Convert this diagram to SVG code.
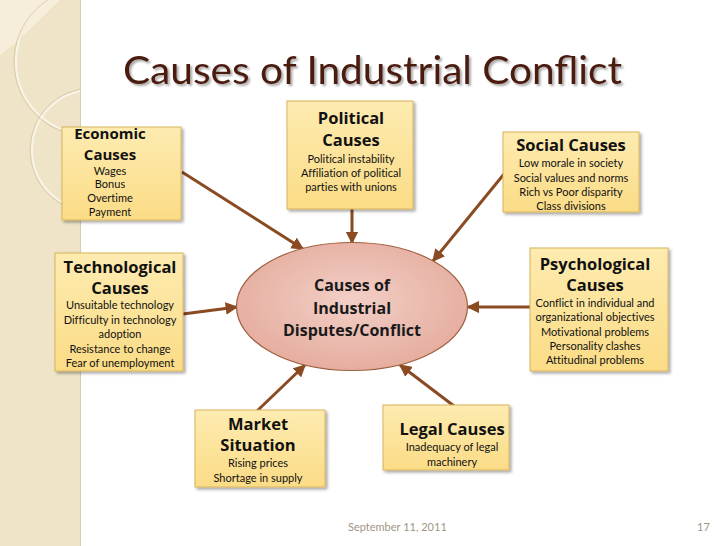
<svg xmlns="http://www.w3.org/2000/svg" width="728" height="546" viewBox="0 0 728 546">
<defs>
<style>
.box{fill:url(#boxg);stroke:#d8b45c;stroke-width:1;filter:url(#sh)}
.h{font-family:"Open Sans",Lato,"Liberation Sans",sans-serif;font-weight:bold;font-size:16.5px;fill:#111;text-anchor:middle}
.t{font-family:Lato,"Liberation Sans",sans-serif;font-size:11px;fill:#111;text-anchor:middle;font-variant-ligatures:none}
.c{font-family:"Open Sans",Lato,"Liberation Sans",sans-serif;font-weight:bold;font-size:16px;fill:#1a1a1a;text-anchor:middle}
.ln{stroke:#8a4a22;stroke-width:3;fill:none;marker-end:url(#ah)}
.foot{font-family:Lato,"Liberation Sans",sans-serif;font-size:11px;fill:#a09684}
</style>
<linearGradient id="boxg" x1="0" y1="0" x2="0" y2="1">
<stop offset="0" stop-color="#fdebb0"/>
<stop offset="1" stop-color="#fbdc86"/>
</linearGradient>
<radialGradient id="elg" cx="0.5" cy="0.45" r="0.6">
<stop offset="0" stop-color="#f3cfc6"/>
<stop offset="1" stop-color="#e4aa9c"/>
</radialGradient>
<filter id="sh" x="-10%" y="-10%" width="130%" height="130%">
<feDropShadow dx="2" dy="2" stdDeviation="1.5" flood-color="#000" flood-opacity="0.35"/>
</filter>
<filter id="tsh" x="-5%" y="-20%" width="110%" height="150%">
<feDropShadow dx="2" dy="2" stdDeviation="1" flood-color="#000" flood-opacity="0.35"/>
</filter>
<marker id="ah" viewBox="0 0 10 10" refX="9" refY="5" markerWidth="4.2" markerHeight="4.2" orient="auto" markerUnits="strokeWidth">
<path d="M0,0 L10,5 L0,10 z" fill="#8a4a22"/>
</marker>
<clipPath id="band"><rect x="0" y="0" width="80" height="546"/></clipPath>
</defs>
<rect width="728" height="546" fill="#ffffff"/>
<g id="band-deco">
<rect x="0" y="0" width="80" height="546" fill="#efe4c7"/>
<g clip-path="url(#band)" fill="none" stroke="#ffffff" stroke-opacity="0.6" stroke-width="2">
<circle cx="88" cy="62" r="72"/>
<circle cx="92" cy="150" r="60"/>
<path d="M0,55 C20,40 45,15 60,0 L0,0 z" fill="#f6eedb" stroke="none"/>
</g>
<g clip-path="url(#band)" fill="none" stroke="#cdbf9c" stroke-opacity="0.7" stroke-width="1">
<circle cx="88" cy="62" r="74"/>
<circle cx="92" cy="150" r="62"/>
</g>
<line x1="80.5" y1="0" x2="80.5" y2="546" stroke="#d9cca8" stroke-width="1"/>
</g>
<text x="123" y="84" textLength="499" lengthAdjust="spacingAndGlyphs" font-family="Lato,'Liberation Sans',sans-serif" font-size="38" fill="#4a1a10" filter="url(#tsh)">Causes of Industrial Conflict</text>
<g id="connectors">
<line class="ln" x1="182" y1="172" x2="303" y2="249"/>
<line class="ln" x1="352" y1="209" x2="352" y2="243"/>
<line class="ln" x1="504" y1="174" x2="433" y2="261"/>
<line class="ln" x1="183" y1="314" x2="237" y2="307"/>
<line class="ln" x1="530" y1="307" x2="468" y2="307"/>
<line class="ln" x1="257" y1="411" x2="305" y2="365"/>
<line class="ln" x1="454" y1="406" x2="400" y2="365"/>
</g>
<g id="center">
<ellipse cx="352" cy="306.5" rx="115.5" ry="64" fill="url(#elg)" stroke="#a0603e" stroke-width="1.2"/>
<text class="c" x="352" y="291">Causes of</text>
<text class="c" x="352" y="314">Industrial</text>
<text class="c" x="352" y="336">Disputes/Conflict</text>
</g>
<g id="economic">
<rect class="box" x="62" y="127" width="119" height="93"/>
<text class="h" x="110" y="139" style="font-size:15px">Economic</text>
<text class="h" x="110" y="160" style="font-size:15px">Causes</text>
<text class="t" x="110" y="175">Wages</text>
<text class="t" x="110" y="188">Bonus</text>
<text class="t" x="110" y="202">Overtime</text>
<text class="t" x="110" y="216">Payment</text>
</g>
<g id="political">
<rect class="box" x="287" y="101" width="126" height="108"/>
<text class="h" x="351" y="124">Political</text>
<text class="h" x="351" y="146">Causes</text>
<text class="t" x="351" y="163">Political instability</text>
<text class="t" x="351" y="177">Affiliation of political</text>
<text class="t" x="351" y="191">parties with unions</text>
</g>
<g id="social">
<rect class="box" x="503" y="132" width="136" height="80"/>
<text class="h" x="571" y="151">Social Causes</text>
<text class="t" x="571" y="167">Low morale in society</text>
<text class="t" x="571" y="182">Social values and norms</text>
<text class="t" x="571" y="196">Rich vs Poor disparity</text>
<text class="t" x="571" y="210">Class divisions</text>
</g>
<g id="technological">
<rect class="box" x="55" y="253" width="128" height="118"/>
<text class="h" x="120" y="273">Technological</text>
<text class="h" x="120" y="294">Causes</text>
<text class="t" x="120" y="309">Unsuitable technology</text>
<text class="t" x="120" y="324">Difficulty in technology</text>
<text class="t" x="120" y="338">adoption</text>
<text class="t" x="120" y="353">Resistance to change</text>
<text class="t" x="120" y="367">Fear of unemployment</text>
</g>
<g id="psychological">
<rect class="box" x="530" y="248" width="138" height="123"/>
<text class="h" x="595" y="270">Psychological</text>
<text class="h" x="595" y="291">Causes</text>
<text class="t" x="595" y="307">Conflict in individual and</text>
<text class="t" x="595" y="321">organizational objectives</text>
<text class="t" x="595" y="336">Motivational problems</text>
<text class="t" x="595" y="350">Personality clashes</text>
<text class="t" x="595" y="364">Attitudinal problems</text>
</g>
<g id="market">
<rect class="box" x="195" y="410" width="130" height="77"/>
<text class="h" x="258" y="430">Market</text>
<text class="h" x="258" y="451">Situation</text>
<text class="t" x="258" y="467">Rising prices</text>
<text class="t" x="258" y="482">Shortage in supply</text>
</g>
<g id="legal">
<rect class="box" x="383" y="405" width="126" height="65"/>
<text class="h" x="452" y="435">Legal Causes</text>
<text class="t" x="452" y="451">Inadequacy of legal</text>
<text class="t" x="452" y="466">machinery</text>
</g>
<text class="foot" x="348" y="531">September 11, 2011</text>
<text class="foot" x="697" y="531">17</text>
</svg>
